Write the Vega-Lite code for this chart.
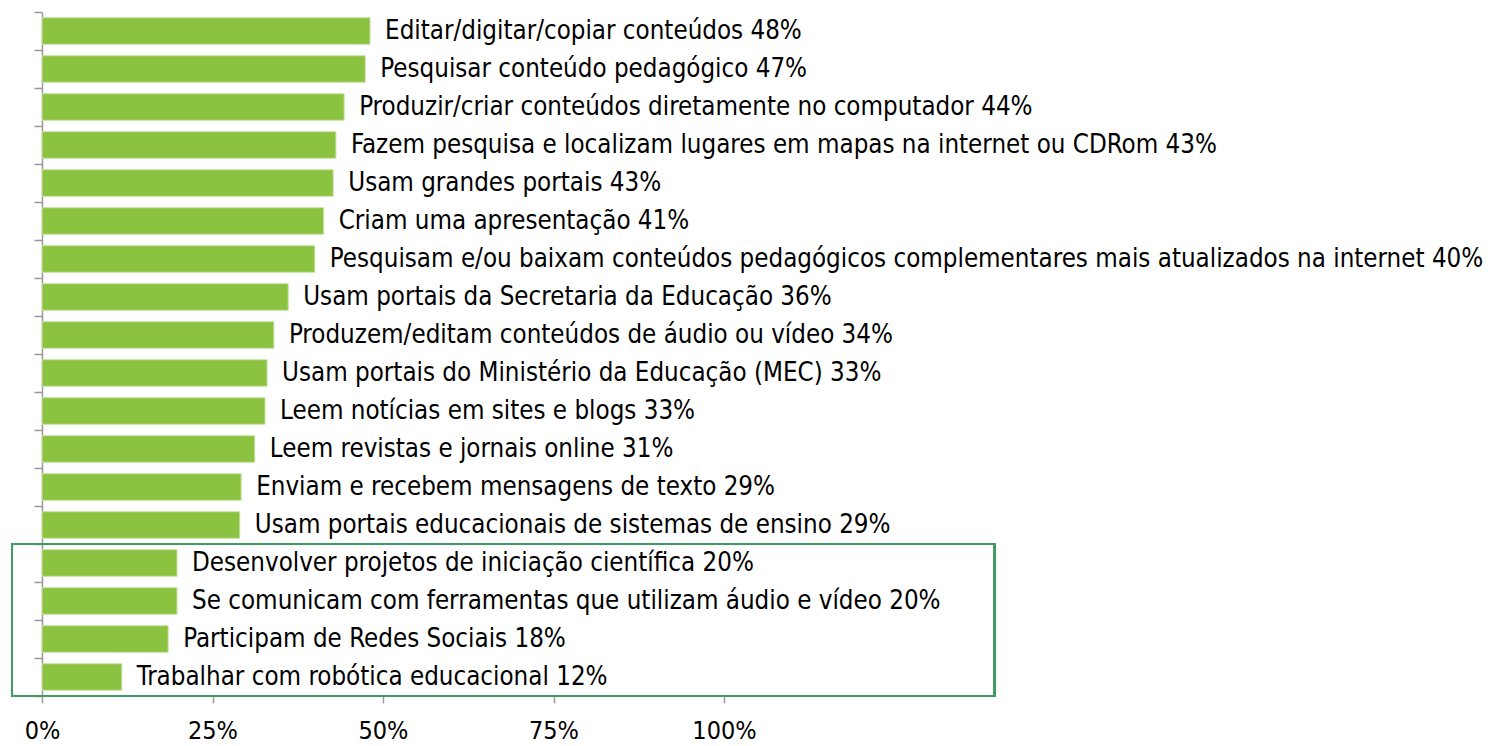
{
  "$schema": "https://vega.github.io/schema/vega-lite/v6.json",
  "autosize": "none",
  "padding": {"left": 42, "top": 12, "right": 767, "bottom": 50},
  "width": 682,
  "height": 684,
  "background": "white",
  "config": {"view": {"stroke": null}},
  "data": {
    "values": [
      {"label": "Editar/digitar/copiar conteúdos 48%", "pct": 48.1},
      {"label": "Pesquisar conteúdo pedagógico 47%", "pct": 47.4},
      {"label": "Produzir/criar conteúdos diretamente no computador 44%", "pct": 44.3},
      {"label": "Fazem pesquisa e localizam lugares em mapas na internet ou CDRom 43%", "pct": 43.1},
      {"label": "Usam grandes portais 43%", "pct": 42.7},
      {"label": "Criam uma apresentação 41%", "pct": 41.3},
      {"label": "Pesquisam e/ou baixam conteúdos pedagógicos complementares mais atualizados na internet 40%", "pct": 40.0},
      {"label": "Usam portais da Secretaria da Educação 36%", "pct": 36.1},
      {"label": "Produzem/editam conteúdos de áudio ou vídeo 34%", "pct": 34.0},
      {"label": "Usam portais do Ministério da Educação (MEC) 33%", "pct": 33.0},
      {"label": "Leem notícias em sites e blogs 33%", "pct": 32.7},
      {"label": "Leem revistas e jornais online 31%", "pct": 31.2},
      {"label": "Enviam e recebem mensagens de texto 29%", "pct": 29.2},
      {"label": "Usam portais educacionais de sistemas de ensino 29%", "pct": 29.0},
      {"label": "Desenvolver projetos de iniciação científica 20%", "pct": 19.8},
      {"label": "Se comunicam com ferramentas que utilizam áudio e vídeo 20%", "pct": 19.8},
      {"label": "Participam de Redes Sociais 18%", "pct": 18.5},
      {"label": "Trabalhar com robótica educacional 12%", "pct": 11.7}
    ]
  },
  "encoding": {
    "y": {
      "field": "label",
      "type": "nominal",
      "sort": null,
      "scale": {"paddingInner": 0, "paddingOuter": 0},
      "axis": {
        "title": null,
        "labels": false,
        "ticks": true,
        "tickBand": "extent",
        "tickSize": 8,
        "tickColor": "#9a9a9a",
        "tickWidth": 1.5,
        "domainColor": "#9a9a9a",
        "domainWidth": 1.5,
        "grid": false
      }
    }
  },
  "layer": [
    {
      "mark": {"type": "bar", "height": {"band": 0.7}, "color": "#8bc240", "stroke": "#c9e3a6", "strokeWidth": 1},
      "encoding": {
        "x": {
          "field": "pct",
          "type": "quantitative",
          "scale": {"domain": [0, 100], "nice": false, "zero": true},
          "axis": {
            "title": null,
            "values": [0, 25, 50, 75, 100],
            "labelExpr": "datum.value + '%'",
            "labelFlush": false,
            "domain": false,
            "grid": false,
            "ticks": true,
            "tickSize": 7,
            "tickColor": "#9a9a9a",
            "tickWidth": 1.5,
            "labelFont": "DejaVu Sans Condensed",
            "labelFontSize": 25,
            "labelColor": "#000000",
            "labelPadding": 15
          }
        }
      }
    },
    {
      "mark": {"type": "text", "align": "left", "baseline": "middle", "dx": 15, "font": "DejaVu Sans Condensed", "fontSize": 25.7, "color": "#000000"},
      "encoding": {
        "x": {"field": "pct", "type": "quantitative"},
        "text": {"field": "label", "type": "nominal"}
      }
    },
    {
      "mark": {"type": "rect", "fill": null, "filled": false, "stroke": "#3d9c62", "strokeWidth": 1.8},
      "encoding": {
        "x": {"datum": -4.4},
        "x2": {"datum": 139.7},
        "y": {"datum": "Desenvolver projetos de iniciação científica 20%", "bandPosition": 0},
        "y2": {"datum": "Trabalhar com robótica educacional 12%", "bandPosition": 1}
      }
    }
  ]
}
